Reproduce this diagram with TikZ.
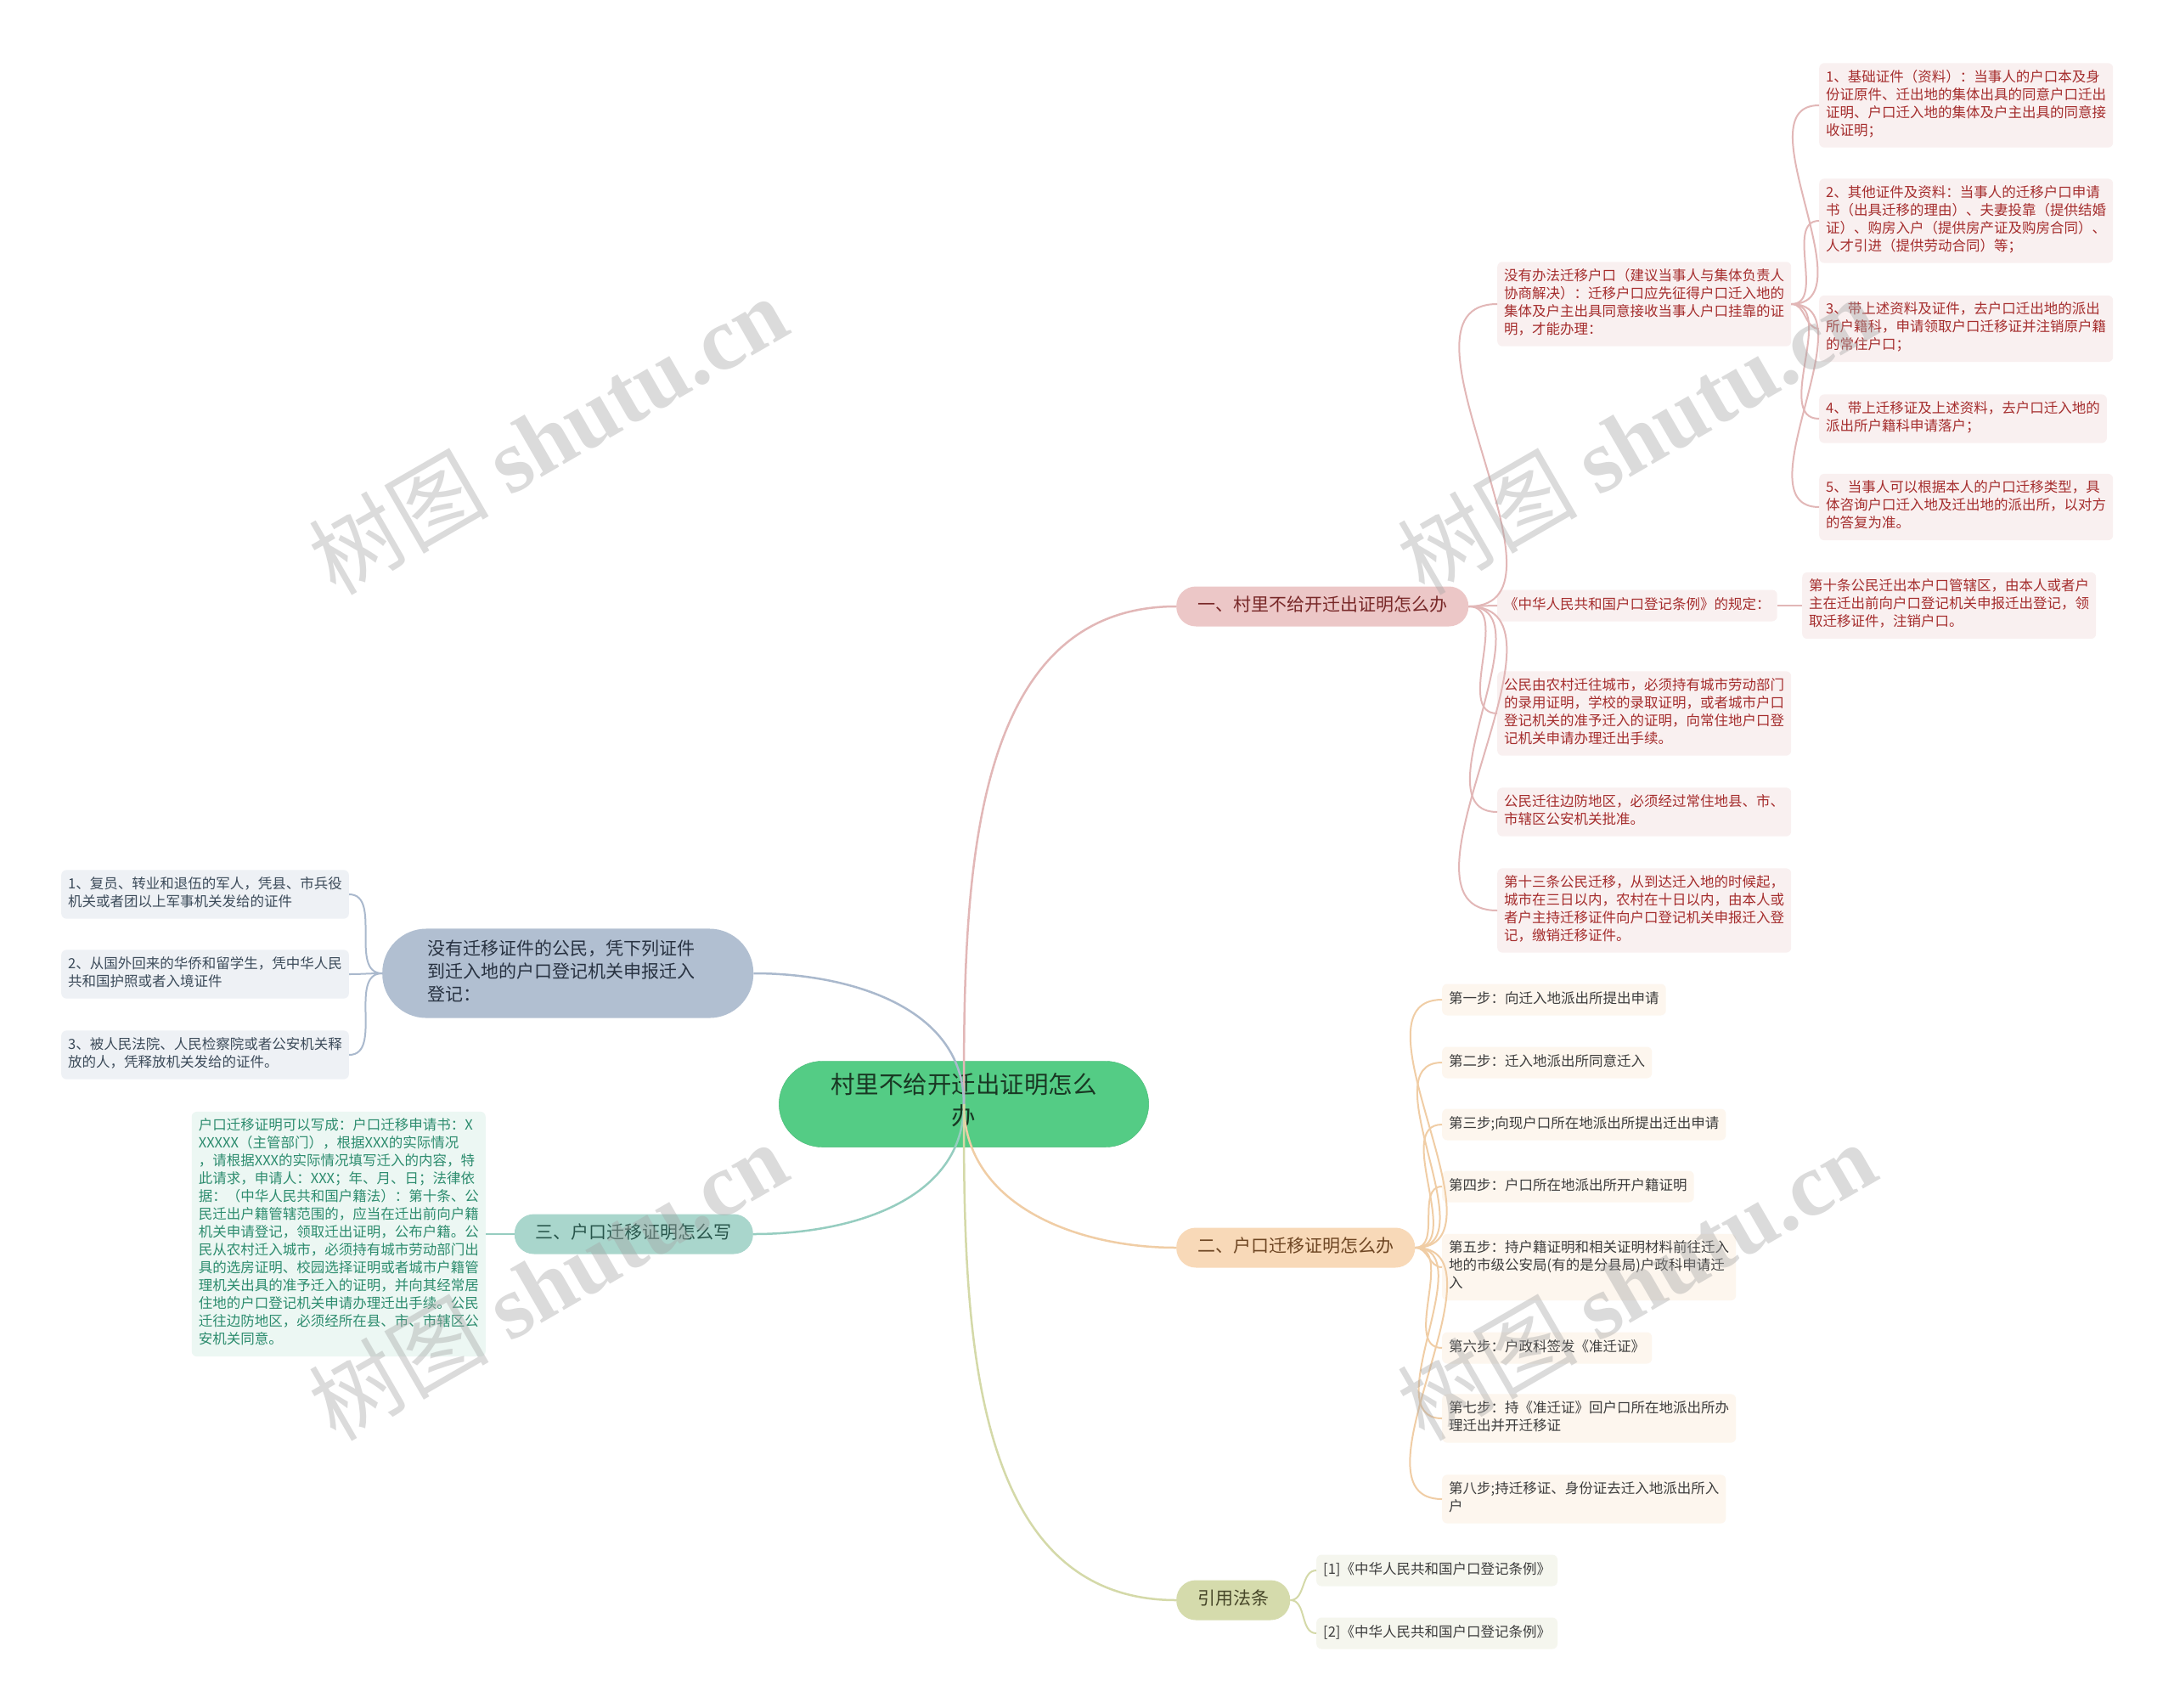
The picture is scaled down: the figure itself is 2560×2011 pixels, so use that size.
\documentclass[tikz,border=0pt]{standalone}
\usepackage{fontspec}
\setmainfont{Noto Sans CJK SC}
\newfontfamily\wmfont{Liberation Serif}
\usetikzlibrary{positioning}
\definecolor{cenfill}{RGB}{84,204,133}
\definecolor{cenbdr}{RGB}{70,184,116}
\definecolor{centxt}{RGB}{25,55,35}
\definecolor{brAfill}{RGB}{236,199,199}
\definecolor{brAtxt}{RGB}{120,40,40}
\definecolor{brBfill}{RGB}{248,217,184}
\definecolor{brBtxt}{RGB}{110,70,35}
\definecolor{brCfill}{RGB}{213,219,172}
\definecolor{brCtxt}{RGB}{70,70,40}
\definecolor{brDfill}{RGB}{169,214,204}
\definecolor{brDtxt}{RGB}{40,85,75}
\definecolor{brEfill}{RGB}{177,191,209}
\definecolor{brEtxt}{RGB}{40,50,65}
\definecolor{lnA}{RGB}{226,183,183}
\definecolor{lnB}{RGB}{240,205,165}
\definecolor{lnC}{RGB}{212,217,168}
\definecolor{lnD}{RGB}{150,205,192}
\definecolor{lnE}{RGB}{170,185,205}
\definecolor{lfA}{RGB}{249,240,240}
\definecolor{lfB}{RGB}{253,246,238}
\definecolor{lfC}{RGB}{245,246,238}
\definecolor{lfD}{RGB}{236,247,243}
\definecolor{lfE}{RGB}{238,241,245}
\definecolor{ltA}{RGB}{165,45,45}
\definecolor{ltB}{RGB}{60,60,60}
\definecolor{ltD}{RGB}{45,140,110}
\definecolor{ltE}{RGB}{60,75,90}
\definecolor{wmclr}{RGB}{165,165,165}
\tikzset{
  %% root topic
  root/.style={rectangle,rounded corners=51pt,draw=cenbdr,fill=cenfill,
    text=centxt,align=center,inner xsep=61pt,inner ysep=14.5pt,
    font=\fontsize{28.5}{37}\selectfont,
    execute at begin node=\strut,execute at end node=\strut},
  %% main branch pill
  brnode/.style={rectangle,rounded corners=23pt,fill=#1,inner xsep=25pt,
    inner ysep=10.5pt,font=\fontsize{21}{26}\selectfont,align=left,
    execute at begin node=\strut,execute at end node=\strut},
  %% leaf box
  leaf/.style={rectangle,rounded corners=6pt,fill=#1,inner xsep=8pt,
    inner ysep=8pt,font=\fontsize{16.5}{21}\selectfont,align=left,
    execute at begin node=\strut,execute at end node=\strut},
  %% connectors
  mainln/.style={draw=#1,line width=2.5pt},
  subln/.style={draw=#1,line width=2pt},
  %% watermark
  wm/.style={text=wmclr,opacity=0.4,rotate=30,
    font=\fontsize{106}{106}\selectfont},
}
\newcommand{\wmtext}{树图 {\wmfont\bfseries shutu.cn}}
\begin{document}
\begin{tikzpicture}[x=1pt,y=-1pt]
  \useasboundingbox[fill=white] (0,0) rectangle (2560,2011);

  %% root and main branches
  \node[root] (cen) at (1135,1300) {村里不给开迁出证明怎么\\办};
  \node[brnode=brAfill,text=brAtxt,anchor=west] (brA) at (1385,714) {一、村里不给开迁出证明怎么办};
  \node[brnode=brBfill,text=brBtxt,anchor=west] (brB) at (1385,1469) {二、户口迁移证明怎么办};
  \node[brnode=brCfill,text=brCtxt,anchor=west] (brC) at (1385,1884) {引用法条};
  \node[brnode=brDfill,text=brDtxt,anchor=east] (brD) at (887,1453) {三、户口迁移证明怎么写};
  \node[brnode=brEfill,text=brEtxt,anchor=west,rounded corners=52pt,inner xsep=53pt,
    inner ysep=12.5pt,text width=331pt,font=\fontsize{21}{26.7}\selectfont] (brE) at (450,1146)
    {没有迁移证件的公民，凭下列证件\\到迁入地的户口登记机关申报迁入\\登记：};

  %% branch A leaves
  \node[leaf=lfA,text=ltA,anchor=west] (nomove) at (1763,358)
    {没有办法迁移户口（建议当事人与集体负责人\\协商解决）：迁移户口应先征得户口迁入地的\\集体及户主出具同意接收当事人户口挂靠的证\\明，才能办理：};
  \node[leaf=lfA,text=ltA,anchor=west] (rule) at (1763,713) {《中华人民共和国户口登记条例》的规定：};
  \node[leaf=lfA,text=ltA,anchor=west] (art10) at (2122,713)
    {第十条公民迁出本户口管辖区，由本人或者户\\主在迁出前向户口登记机关申报迁出登记，领\\取迁移证件，注销户口。};
  \node[leaf=lfA,text=ltA,anchor=west] (tocity) at (1763,840)
    {公民由农村迁往城市，必须持有城市劳动部门\\的录用证明，学校的录取证明，或者城市户口\\登记机关的准予迁入的证明，向常住地户口登\\记机关申请办理迁出手续。};
  \node[leaf=lfA,text=ltA,anchor=west] (border) at (1763,956)
    {公民迁往边防地区，必须经过常住地县、市、\\市辖区公安机关批准。};
  \node[leaf=lfA,text=ltA,anchor=west] (art13) at (1763,1072)
    {第十三条公民迁移，从到达迁入地的时候起，\\城市在三日以内，农村在十日以内，由本人或\\者户主持迁移证件向户口登记机关申报迁入登\\记，缴销迁移证件。};
  \node[leaf=lfA,text=ltA,anchor=west] (doc1) at (2142,124)
    {1、基础证件（资料）：当事人的户口本及身\\份证原件、迁出地的集体出具的同意户口迁出\\证明、户口迁入地的集体及户主出具的同意接\\收证明；};
  \node[leaf=lfA,text=ltA,anchor=west] (doc2) at (2142,260)
    {2、其他证件及资料：当事人的迁移户口申请\\书（出具迁移的理由）、夫妻投靠（提供结婚\\证）、购房入户（提供房产证及购房合同）、\\人才引进（提供劳动合同）等；};
  \node[leaf=lfA,text=ltA,anchor=west] (doc3) at (2142,387)
    {3、带上述资料及证件，去户口迁出地的派出\\所户籍科，申请领取户口迁移证并注销原户籍\\的常住户口；};
  \node[leaf=lfA,text=ltA,anchor=west] (doc4) at (2142,493)
    {4、带上迁移证及上述资料，去户口迁入地的\\派出所户籍科申请落户；};
  \node[leaf=lfA,text=ltA,anchor=west] (doc5) at (2142,597)
    {5、当事人可以根据本人的户口迁移类型，具\\体咨询户口迁入地及迁出地的派出所，以对方\\的答复为准。};

  %% branch B steps
  \node[leaf=lfB,text=ltB,anchor=west] (st1) at (1698,1177) {第一步：向迁入地派出所提出申请};
  \node[leaf=lfB,text=ltB,anchor=west] (st2) at (1698,1251) {第二步：迁入地派出所同意迁入};
  \node[leaf=lfB,text=ltB,anchor=west] (st3) at (1698,1324) {第三步;向现户口所在地派出所提出迁出申请};
  \node[leaf=lfB,text=ltB,anchor=west] (st4) at (1698,1397) {第四步：户口所在地派出所开户籍证明};
  \node[leaf=lfB,text=ltB,anchor=west] (st5) at (1698,1492)
    {第五步：持户籍证明和相关证明材料前往迁入\\地的市级公安局(有的是分县局)户政科申请迁\\入};
  \node[leaf=lfB,text=ltB,anchor=west] (st6) at (1698,1587) {第六步：户政科签发《准迁证》};
  \node[leaf=lfB,text=ltB,anchor=west] (st7) at (1698,1670)
    {第七步：持《准迁证》回户口所在地派出所办\\理迁出并开迁移证};
  \node[leaf=lfB,text=ltB,anchor=west] (st8) at (1698,1765)
    {第八步;持迁移证、身份证去迁入地派出所入\\户};

  %% branch C refs
  \node[leaf=lfC,text=ltB,anchor=west] (ref1) at (1550,1849) {[1]《中华人民共和国户口登记条例》};
  \node[leaf=lfC,text=ltB,anchor=west] (ref2) at (1550,1923) {[2]《中华人民共和国户口登记条例》};

  %% branch D text
  \node[leaf=lfD,text=ltD,anchor=east] (sample) at (572,1453)
    {户口迁移证明可以写成：户口迁移申请书：X\\XXXXX（主管部门），根据XXX的实际情况\\，请根据XXX的实际情况填写迁入的内容，特\\此请求，申请人：XXX；年、月、日；法律依\\据：（中华人民共和国户籍法）：第十条、公\\民迁出户籍管辖范围的，应当在迁出前向户籍\\机关申请登记，领取迁出证明，公布户籍。公\\民从农村迁入城市，必须持有城市劳动部门出\\具的选房证明、校园选择证明或者城市户籍管\\理机关出具的准予迁入的证明，并向其经常居\\住地的户口登记机关申请办理迁出手续。公民\\迁往边防地区，必须经所在县、市、市辖区公\\安机关同意。};

  %% branch E leaves
  \node[leaf=lfE,text=ltE,anchor=west] (army) at (72,1053)
    {1、复员、转业和退伍的军人，凭县、市兵役\\机关或者团以上军事机关发给的证件};
  \node[leaf=lfE,text=ltE,anchor=west] (abroad) at (72,1147)
    {2、从国外回来的华侨和留学生，凭中华人民\\共和国护照或者入境证件};
  \node[leaf=lfE,text=ltE,anchor=west] (freed) at (72,1242)
    {3、被人民法院、人民检察院或者公安机关释\\放的人，凭释放机关发给的证件。};

  %% root connectors
  \draw[mainln=lnA] (cen.center) to[out=90,in=180] (brA.west);
  \draw[mainln=lnE] (cen.center) to[out=90,in=0] (brE.east);
  \draw[mainln=lnD] (cen.center) to[out=-90,in=0] (brD.east);
  \draw[mainln=lnB] (cen.center) to[out=-90,in=180] (brB.west);
  \draw[mainln=lnC] (cen.center) to[out=-90,in=180] (brC.west);

  %% leaf connectors
  \foreach \t in {nomove,rule,tocity,border,art13}
    \draw[subln=lnA] (brA.east) to[out=0,in=180] (\t.west);
  \foreach \t in {doc1,doc2,doc3,doc4,doc5}
    \draw[subln=lnA] (nomove.east) to[out=0,in=180] (\t.west);
  \draw[subln=lnA] (rule.east) -- (art10.west);
  \foreach \t in {st1,st2,st3,st4,st5,st6,st7,st8}
    \draw[subln=lnB] (brB.east) to[out=0,in=180] (\t.west);
  \foreach \t in {ref1,ref2}
    \draw[subln=lnC] (brC.east) to[out=0,in=180] (\t.west);
  \draw[subln=lnD] (brD.west) -- (sample.east);
  \foreach \t in {army,abroad,freed}
    \draw[subln=lnE] (brE.west) to[out=180,in=0] (\t.east);

  %% watermarks
  \node[wm] (wmA) at (645,512) {\wmtext};
  \node[wm] (wmB) at (1927,512) {\wmtext};
  \node[wm] (wmC) at (645,1508) {\wmtext};
  \node[wm] (wmD) at (1927,1508) {\wmtext};
\end{tikzpicture}
\end{document}
